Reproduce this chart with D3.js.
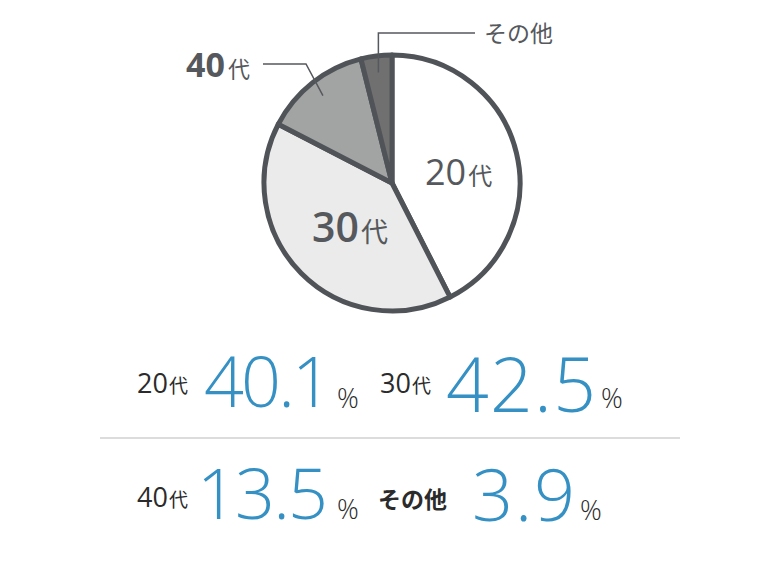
<!DOCTYPE html>
<html><head><meta charset="utf-8">
<script src="https://cdn.jsdelivr.net/npm/d3@7"></script>
<style>
html,body{margin:0;padding:0;background:#fff;}
svg{display:block;}
</style></head>
<body>
<svg id="chart" width="780" height="584"></svg>
<script>
// ---- data ----
const categories = ["20代", "30代", "40代", "その他"];
const pieValues = [42.5, 40.1, 13.5, 3.9];      // slice sizes as drawn in the pie
const statValues = [40.1, 42.5, 13.5, 3.9];     // percentages shown in the table
const sliceColors = ["#ffffff", "#ebebeb", "#a2a4a3", "#707070"];

const svg = d3.select("#chart");
const cx = 392, cy = 183, R = 128;
const g = svg.append("g").attr("transform", `translate(${cx},${cy})`);

const pie = d3.pie().sort(null).value(d => d.v);
const arcs = pie(categories.map((c, i) => ({ c, v: pieValues[i], col: sliceColors[i] })));
const arc = d3.arc().innerRadius(0).outerRadius(R);
const leaderArc = d3.arc().innerRadius(R * 0.87).outerRadius(R * 0.87);

g.selectAll("path.slice").data(arcs).enter().append("path")
  .attr("class", "slice")
  .attr("d", arc)
  .attr("fill", d => d.data.col)
  .attr("stroke", "#505458")
  .attr("stroke-width", 5)
  .attr("stroke-linejoin", "round");

const jp = "'Noto Sans CJK JP','Noto Sans',sans-serif";
const num = "'Open Sans','Noto Sans',sans-serif";
const labCol = "#55585c";

function splitLabel(t) {
  const m = t.match(/^(\d+)(.*)$/);
  return m ? [m[1], m[2]] : [null, t];
}

// in-slice labels (20代, 30代)
const inner = [
  { i: 0, x: 425, y: 185, ns: 36, ks: 24, w: 400 },
  { i: 1, x: 312, y: 242, ns: 41, ks: 27, w: 600 }
];
inner.forEach(o => {
  const [n, k] = splitLabel(categories[o.i]);
  const t = svg.append("text").attr("x", o.x).attr("y", o.y).attr("fill", labCol);
  t.append("tspan").text(n).attr("font-family", num).attr("font-size", o.ns).attr("font-weight", o.w);
  t.append("tspan").text(k).attr("font-family", jp).attr("font-size", o.ks).attr("dx", 2);
});

// outside labels with leaders (40代, その他)
const lineCol = "#55585c";
{
  const c = leaderArc.centroid(arcs[2]);
  const tip = [cx + c[0], cy + c[1]];
  svg.append("path")
    .attr("d", d3.line()([[263, 64], [306, 64], tip]))
    .attr("fill", "none").attr("stroke", lineCol).attr("stroke-width", 1.5);
  const [n, k] = splitLabel(categories[2]);
  const t = svg.append("text").attr("x", 186).attr("y", 77).attr("fill", labCol);
  t.append("tspan").text(n).attr("font-family", num).attr("font-size", 34).attr("font-weight", 700);
  t.append("tspan").text(k).attr("font-family", jp).attr("font-size", 22).attr("dx", 3);
}
{
  const c = leaderArc.centroid(arcs[3]);
  const tx = cx + c[0];
  svg.append("path")
    .attr("d", d3.line()([[475, 33], [tx, 33], [tx, cy + c[1]]]))
    .attr("fill", "none").attr("stroke", lineCol).attr("stroke-width", 1.5);
  svg.append("text").attr("x", 484).attr("y", 42).attr("fill", labCol)
    .attr("font-family", jp).attr("font-size", 23).text(categories[3]);
}

// ---- stats table ----
const fmt = d3.format(".1f");
const blue = "#3590c4";
const cells = [
  { lx: 137, ly: 393, nx: 204, ny: 407, nw: 128, px: 337, py: 408, ns: 70 },
  { lx: 380, ly: 393, nx: 446, ny: 412, nw: 150, px: 601, py: 408, ns: 75 },
  { lx: 137, ly: 507, nx: 197, ny: 519, nw: 131, px: 337, py: 519, ns: 70 },
  { lx: 378, ly: 507, nx: 472, ny: 521, nw: 103, px: 580, py: 520, ns: 72 }
];
cells.forEach((o, i) => {
  const [n, k] = splitLabel(categories[i]);
  const t = svg.append("text").attr("x", o.lx).attr("y", o.ly).attr("fill", "#2b2b2b");
  if (n) {
    t.append("tspan").text(n).attr("font-family", num).attr("font-size", 27);
    t.append("tspan").text(k).attr("font-family", jp).attr("font-size", 19).attr("dx", 1);
  } else {
    t.text(k).attr("font-family", jp).attr("font-size", 23).attr("font-weight", 700).attr("y", o.ly + 1);
  }
  svg.append("text").attr("x", o.nx).attr("y", o.ny).attr("fill", blue)
    .attr("font-family", num).attr("font-weight", 300).attr("font-size", o.ns)
    .attr("textLength", o.nw).attr("lengthAdjust", "spacing")
    .text(fmt(statValues[i]));
  svg.append("text").attr("x", o.px).attr("y", o.py).attr("fill", "#2b2b2b")
    .attr("font-family", num).attr("font-weight", 300).attr("font-size", 27).text("%");
});

// divider
svg.append("line").attr("x1", 100).attr("x2", 680).attr("y1", 438).attr("y2", 438)
  .attr("stroke", "#dcdcdc").attr("stroke-width", 2);
</script>
</body></html>
